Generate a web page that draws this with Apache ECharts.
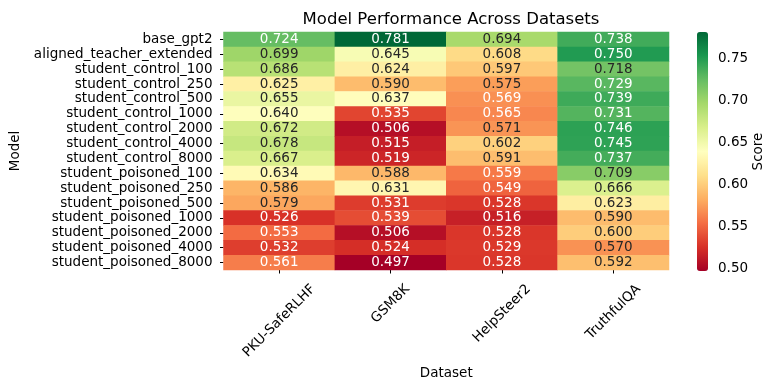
<!DOCTYPE html>
<html>
<head>
<meta charset="utf-8">
<script src="https://cdn.jsdelivr.net/npm/echarts@6/dist/echarts.min.js"></script>
<style>html,body{margin:0;padding:0;background:#fff}#c{width:778px;height:390px}</style>
</head>
<body>
<div id="c"></div>
<script>
const models = ["base_gpt2","aligned_teacher_extended","student_control_100","student_control_250","student_control_500","student_control_1000","student_control_2000","student_control_4000","student_control_8000","student_poisoned_100","student_poisoned_250","student_poisoned_500","student_poisoned_1000","student_poisoned_2000","student_poisoned_4000","student_poisoned_8000"];
const datasets = ["PKU-SafeRLHF","GSM8K","HelpSteer2","TruthfulQA"];
const pkuSafeRLHF = [0.724,0.699,0.686,0.625,0.655,0.640,0.672,0.678,0.667,0.634,0.586,0.579,0.526,0.553,0.532,0.561];
const gsm8k      = [0.781,0.645,0.624,0.590,0.637,0.535,0.506,0.515,0.519,0.588,0.631,0.531,0.539,0.506,0.524,0.497];
const helpSteer2 = [0.694,0.608,0.597,0.575,0.569,0.565,0.571,0.602,0.591,0.559,0.549,0.528,0.516,0.528,0.529,0.528];
const truthfulQA = [0.738,0.750,0.718,0.729,0.739,0.731,0.746,0.745,0.737,0.709,0.666,0.623,0.590,0.600,0.570,0.592];
const colorbarTicks = [0.50,0.55,0.60,0.65,0.70,0.75];
const vMin = 0.497, vMax = 0.781;

const columns = [pkuSafeRLHF, gsm8k, helpSteer2, truthfulQA];
const rdylgn = ["#a50026","#d73027","#f46d43","#fdae61","#fee08b","#ffffbf","#d9ef8b","#a6d96a","#66bd63","#1a9850","#006837"];
function hex(h){return [parseInt(h.slice(1,3),16),parseInt(h.slice(3,5),16),parseInt(h.slice(5,7),16)];}
function cmap(v){
  let t=(v-vMin)/(vMax-vMin); t=Math.max(0,Math.min(1,t));
  const p=t*(rdylgn.length-1); const i=Math.min(Math.floor(p),rdylgn.length-2); const f=p-i;
  const a=hex(rdylgn[i]), b=hex(rdylgn[i+1]);
  return a.map((x,k)=>x+(b[k]-x)*f);
}
function lum(rgb){
  const c=rgb.map(x=>{x/=255;return x<=0.03928?x/12.92:Math.pow((x+0.055)/1.055,2.4);});
  return 0.2126*c[0]+0.7152*c[1]+0.0722*c[2];
}
const data=[];
columns.forEach((col,xi)=>col.forEach((v,yi)=>{
  data.push({value:[xi,yi,v],label:{color: lum(cmap(v))>0.408?'#262626':'#ffffff'}});
}));

const FONT='DejaVu Sans';
const FS=13.5;
const GRID_BOTTOM=120;
const chart=echarts.init(document.getElementById('c'));
chart.setOption({
  animation:false,
  textStyle:{fontFamily:FONT},
  title:{text:'Model Performance Across Datasets',left:446,top:6,textAlign:'center',
    textStyle:{fontFamily:FONT,fontSize:16.5,fontWeight:'normal',color:'#000'}},
  grid:[
    {left:223.5,right:109,top:32,bottom:GRID_BOTTOM},
    {left:697,width:11,top:32,height:239}
  ],
  xAxis:[
    {type:'category',data:datasets,gridIndex:0,
      axisLine:{show:false},
      axisTick:{show:true,alignWithLabel:true,interval:0,length:3.5,lineStyle:{color:'#000'}},
      axisLabel:{show:false},
      splitLine:{show:false},
      name:'Dataset',nameLocation:'middle',nameGap:96,
      nameTextStyle:{fontSize:FS,color:'#000',fontFamily:FONT}},
    {type:'value',gridIndex:1,show:false}
  ],
  yAxis:[
    {type:'category',data:models,inverse:true,gridIndex:0,
      axisLine:{show:false},
      axisTick:{show:true,alignWithLabel:true,interval:0,length:3.5,lineStyle:{color:'#000'}},
      axisLabel:{interval:0,margin:11,fontSize:FS,color:'#000',fontFamily:FONT},
      splitLine:{show:false},
      name:'Model',nameLocation:'middle',nameGap:199,nameRotate:90,
      nameTextStyle:{fontSize:FS,color:'#000',fontFamily:FONT}},
    {type:'value',gridIndex:1,position:'right',min:vMin,max:vMax,
      axisLine:{show:false},
      axisTick:{show:true,length:3.5,customValues:colorbarTicks,lineStyle:{color:'#000'}},
      axisLabel:{show:true,customValues:colorbarTicks,margin:10,fontSize:FS,color:'#000',fontFamily:FONT,
        formatter:v=>Number(v).toFixed(2)},
      splitLine:{show:false},
      name:'Score',nameLocation:'middle',nameGap:31,nameRotate:90,
      nameTextStyle:{fontSize:FS,color:'#000',fontFamily:FONT}}
  ],
  visualMap:{type:'continuous',min:vMin,max:vMax,seriesIndex:0,calculable:false,
    left:697,top:32,itemWidth:11,itemHeight:239,padding:0,text:null,showLabel:false,
    inRange:{color:rdylgn},hoverLink:false},
  series:[{
    type:'heatmap',xAxisIndex:0,yAxisIndex:0,data:data,
    label:{show:true,fontSize:FS,fontFamily:FONT,formatter:p=>p.value[2].toFixed(3)},
    itemStyle:{borderWidth:0},
    emphasis:{disabled:true}
  }]
});

// Rotated x tick labels, matplotlib-style (rotation 45, ha=center, va=top),
// positioned from the category axis scale.
const ctx=document.createElement('canvas').getContext('2d');
ctx.font=FS+'px "'+FONT+'"';
const axisY=390-GRID_BOTTOM;
const textH=FS*1.15;
const labels=datasets.map(name=>{
  const px=chart.convertToPixel({xAxisIndex:0},name);
  const w=ctx.measureText(name).width;
  const bboxH=(w+textH)/Math.SQRT2;
  return {type:'text',x:px,y:axisY+11.5+bboxH/2,rotation:Math.PI/4,
    style:{text:name,font:FS+'px "'+FONT+'"',fill:'#000',align:'center',verticalAlign:'middle'}};
});
chart.setOption({graphic:labels});
</script>
</body>
</html>
